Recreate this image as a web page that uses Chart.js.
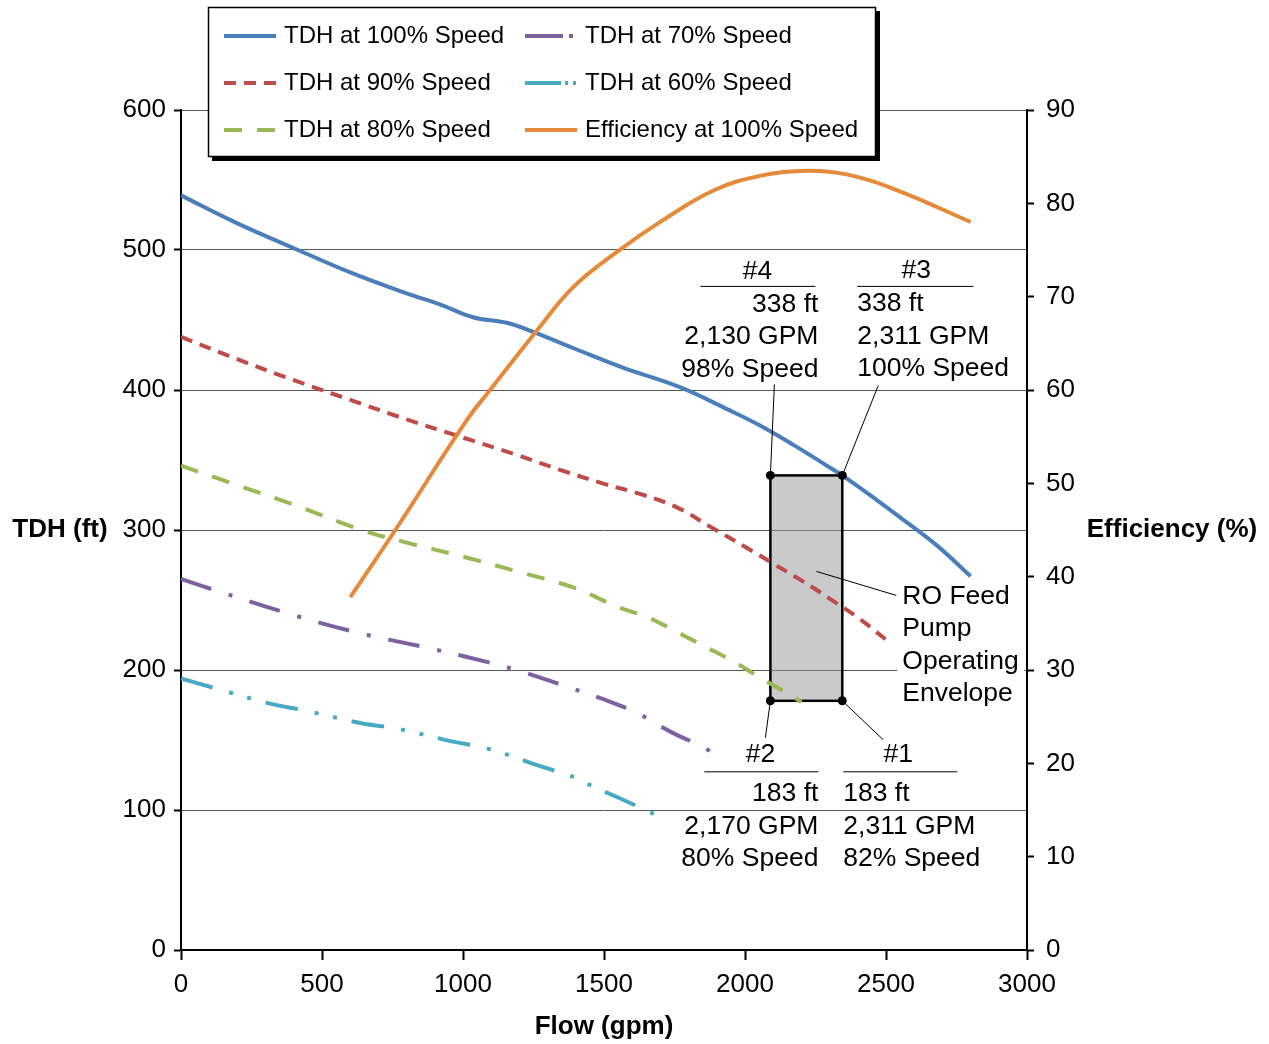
<!DOCTYPE html>
<html><head><meta charset="utf-8">
<script src="https://cdn.jsdelivr.net/npm/chart.js@4.4.1/dist/chart.umd.min.js"></script>
<style>html,body{margin:0;padding:0;background:#fff}#wrap{width:1269px;height:1044px}</style>
</head><body><div id="wrap"><canvas id="c" width="1269" height="1044"></canvas></div>
<script>
// ---- data ----
const flow100 = [0,200,415,600,800,920,1035,1155,1255,1390,1567,1769,1940,2050,2170,2290,2345,2470,2550,2680,2800];
const head100 = [539,519,500,484,469,461,452,448,441,430,416,402,386,375,361,346,339,321,309,289,267];
const flow90 = [0,200,400,600,800,1000,1200,1344,1500,1640,1760,1880,2000,2100,2200,2300,2410,2510];
const head90 = [438,422,407,393,379,366,353,343,333,325,316,302,288,276,264,251,236,220];
const flow80 = [0,200,400,640,800,1000,1200,1390,1550,1650,1760,1865,1960,2050,2170,2200];
const head80 = [346,332,318,300,291,281,270,259,245,238,227,216,206,195,181,177];
const flow70 = [0,120,370,620,870,1000,1190,1370,1500,1620,1735,1850,1910];
const head70 = [265,257,241,227,216,210,200,188,179,169,156,145,138];
const flow60 = [0,120,316,440,640,770,960,1085,1280,1400,1460,1560,1690];
const head60 = [194,187,176,171,162,158,149,144,131,123,117,108,96];
const flowEff = [600,760,1014,1096,1255,1390,1546,1709,1890,2060,2220,2360,2540,2800];
const eff100 = [37.8,45,56.8,60,66.1,71,74.8,78.2,81.4,83,83.5,83.1,81.4,78];
const seriesNames = ['TDH at 100% Speed','TDH at 90% Speed','TDH at 80% Speed','TDH at 70% Speed','TDH at 60% Speed','Efficiency at 100% Speed'];
const envelopeFlow = [2090, 2345];
const envelopeHead = [178, 339];
const label4 = ['#4','338 ft','2,130 GPM','98% Speed'];
const label3 = ['#3','338 ft','2,311 GPM','100% Speed'];
const label2 = ['#2','183 ft','2,170 GPM','80% Speed'];
const label1 = ['#1','183 ft','2,311 GPM','82% Speed'];
const envelopeLabel = ['RO Feed','Pump','Operating','Envelope'];
const xTitle = 'Flow (gpm)', yTitle = 'TDH (ft)', y1Title = 'Efficiency (%)';

// ---- chart ----
const FONT = '"Liberation Sans", Arial, Helvetica, sans-serif';
const pts = (xs, ys) => xs.map((x, i) => ({x, y: ys[i]}));
const styles = [
  {c:'#4A7EBB', d:[], ld:[]},
  {c:'#BE4B48', d:[12,8], ld:[12,8]},
  {c:'#98B954', d:[18,15], ld:[18,15]},
  {c:'#7D60A0', d:[32,18,4,18], ld:[38,6,4,20]},
  {c:'#46AAC5', d:[33,17,4,15,4,15], ld:[36,4,3,5,3,20]},
  {c:'#E5893B', d:[], ld:[]}
];
const xs = [flow100,flow90,flow80,flow70,flow60,flowEff];
const ys = [head100,head90,head80,head70,head60,eff100];
const datasets = seriesNames.map((n, i) => ({
  label: n, data: pts(xs[i], ys[i]), borderColor: styles[i].c, borderDash: styles[i].d,
  borderWidth: 4, pointRadius: 0, fill: false, tension: 0.4,
  borderCapStyle: 'butt', yAxisID: i === 5 ? 'y1' : 'y', order: i === 5 ? -1 : i
}));

function txt(ctx, s, x, y, align, font) {
  ctx.font = font; ctx.textAlign = align; ctx.textBaseline = 'middle'; ctx.fillText(s, x, y);
}
function line(ctx, x1, y1, x2, y2, w) {
  ctx.lineWidth = w; ctx.beginPath(); ctx.moveTo(x1, y1); ctx.lineTo(x2, y2); ctx.stroke();
}

const envPlugin = {
  id: 'env',
  beforeDatasetsDraw(chart) {
    const {ctx, scales:{x, y}} = chart;
    const L = x.getPixelForValue(envelopeFlow[0]), R = x.getPixelForValue(envelopeFlow[1]);
    const T = y.getPixelForValue(envelopeHead[1]), B = y.getPixelForValue(envelopeHead[0]);
    ctx.save();
    ctx.fillStyle = 'rgba(150,150,150,0.5)';
    ctx.fillRect(L, T, R - L, B - T);
    ctx.strokeStyle = '#000'; ctx.lineWidth = 2.5; ctx.setLineDash([]);
    ctx.strokeRect(L, T, R - L, B - T);
    ctx.restore();
  },
  afterDatasetsDraw(chart) {
    const {ctx, scales:{x, y}} = chart;
    const L = x.getPixelForValue(envelopeFlow[0]), R = x.getPixelForValue(envelopeFlow[1]);
    const T = y.getPixelForValue(envelopeHead[1]), B = y.getPixelForValue(envelopeHead[0]);
    ctx.save();
    ctx.setLineDash([]);
    ctx.fillStyle = '#000'; ctx.strokeStyle = '#000';
    [[L,T],[R,T],[L,B],[R,B]].forEach(([px,py]) => { ctx.beginPath(); ctx.arc(px, py, 4.5, 0, Math.PI*2); ctx.fill(); });
    const F = '26.5px ' + FONT;
    // #4
    txt(ctx, label4[0], L - 13, T - 204, 'center', F);
    line(ctx, L - 70, T - 189, L + 45, T - 189, 1);
    txt(ctx, label4[1], L + 48, T - 171, 'right', F);
    txt(ctx, label4[2], L + 48, T - 139, 'right', F);
    txt(ctx, label4[3], L + 48, T - 106, 'right', F);
    line(ctx, L + 4, T - 91, L, T, 1);
    // #3
    txt(ctx, label3[0], R + 74, T - 205, 'center', F);
    line(ctx, R + 15, T - 189, R + 131, T - 189, 1);
    txt(ctx, label3[1], R + 15, T - 172, 'left', F);
    txt(ctx, label3[2], R + 15, T - 139, 'left', F);
    txt(ctx, label3[3], R + 15, T - 107, 'left', F);
    line(ctx, R + 36, T - 90, R, T, 1);
    // #2
    txt(ctx, label2[0], L - 10, B + 54, 'center', F);
    line(ctx, L - 66, B + 71, L + 48, B + 71, 1);
    txt(ctx, label2[1], L + 48, B + 93, 'right', F);
    txt(ctx, label2[2], L + 48, B + 126, 'right', F);
    txt(ctx, label2[3], L + 48, B + 158, 'right', F);
    line(ctx, L, B, L - 5, B + 37, 1);
    // #1
    txt(ctx, label1[0], R + 56, B + 54, 'center', F);
    line(ctx, R + 1, B + 71, R + 115, B + 71, 1);
    txt(ctx, label1[1], R + 1, B + 93, 'left', F);
    txt(ctx, label1[2], R + 1, B + 126, 'left', F);
    txt(ctx, label1[3], R + 1, B + 158, 'left', F);
    line(ctx, R, B, R + 41, B + 39, 1);
    // envelope label
    ctx.fillStyle = '#fff';
    ctx.fillRect(R + 55, T + 104, 127, 128);
    ctx.fillStyle = '#000';
    envelopeLabel.forEach((s, i) => txt(ctx, s, R + 60, T + 121 + i * 32.5, 'left', F));
    line(ctx, L + 46, T + 96, R + 54, T + 120, 1);
    ctx.restore();
  },
  afterDraw(chart) {
    const {ctx} = chart;
    ctx.save();
    ctx.setLineDash([]);
    ctx.fillStyle = '#000';
    const BF = 'bold 26px ' + FONT;
    txt(ctx, yTitle, 60, 530, 'center', BF);
    txt(ctx, y1Title, 1172, 530, 'center', BF);
    txt(ctx, xTitle, 604, 1027, 'center', BF);
    // legend
    const bx = 208, by = 7, bw = 668, bh = 150;
    ctx.fillStyle = '#000'; ctx.fillRect(bx + 4, by + 4, bw, bh);
    ctx.fillStyle = '#fff'; ctx.fillRect(bx, by, bw, bh);
    ctx.strokeStyle = '#000'; ctx.lineWidth = 1.5; ctx.strokeRect(bx + 0.5, by + 0.5, bw - 1, bh - 1);
    const cols = [224, 525], rows = [36, 83, 130];
    chart.data.datasets.forEach((ds, i) => {
      const cx = cols[Math.floor(i / 3)], cy = rows[i % 3];
      ctx.strokeStyle = ds.borderColor; ctx.lineCap = 'butt';
      ctx.setLineDash(styles[i].ld);
      line(ctx, cx, cy, cx + 52, cy, 4);
      ctx.setLineDash([]);
      ctx.fillStyle = '#000';
      txt(ctx, ds.label, cx + 60, cy, 'left', '24px ' + FONT);
    });
    ctx.restore();
  }
};

new Chart(document.getElementById('c'), {
  type: 'line',
  data: {datasets},
  plugins: [envPlugin],
  options: {
    responsive: false, animation: false, devicePixelRatio: 1,
    layout: {padding: {top: 110, left: 0, right: 0, bottom: 0}},
    plugins: {legend: {display: false}, tooltip: {enabled: false}, title: {display: false}},
    scales: {
      x: {
        type: 'linear', min: 0, max: 3000,
        afterFit(s) { s.height = 94; },
        ticks: {stepSize: 500, color: '#000', font: {size: 26, family: FONT}, padding: 9, maxRotation: 0,
          callback: v => String(v)},
        grid: {drawOnChartArea: false, drawTicks: true, tickLength: 10, tickColor: '#000', tickWidth: 2},
        border: {color: '#000', width: 2}
      },
      y: {
        position: 'left', min: 0, max: 600,
        afterFit(s) { s.width = 181; },
        ticks: {stepSize: 100, color: '#000', font: {size: 26, family: FONT}, padding: 8, callback: v => String(v)},
        grid: {color: '#555', lineWidth: 1, tickLength: 7, tickColor: '#000', tickWidth: 2},
        border: {color: '#000', width: 2}
      },
      y1: {
        position: 'right', min: 0, max: 90,
        afterFit(s) { s.width = 242; },
        ticks: {stepSize: 10, color: '#000', font: {size: 26, family: FONT}, padding: 12, callback: v => String(v)},
        grid: {drawOnChartArea: false, tickLength: 7, tickColor: '#000', tickWidth: 2},
        border: {color: '#000', width: 2}
      }
    }
  }
});
</script>
</body></html>
